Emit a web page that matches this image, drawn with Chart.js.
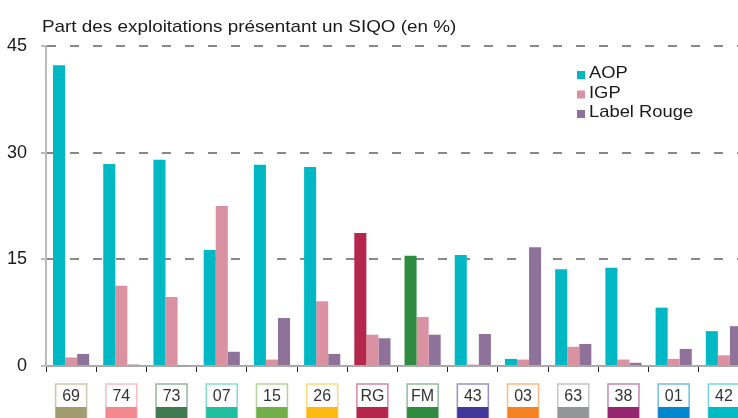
<!DOCTYPE html>
<html lang="fr">
<head>
<meta charset="utf-8">
<script src="https://cdn.jsdelivr.net/npm/chart.js@4.4.0/dist/chart.umd.min.js"></script>
<style>
    html, body { margin: 0; padding: 0; background: #fff; overflow: hidden; }
    #conteneur { position: relative; width: 752px; height: 418px; }
</style>
</head>
<body>
<div id="conteneur"><canvas id="grafique"></canvas></div>
<script>
// Départements / zones (axe x)
const departements = ['69', '74', '73', '07', '15', '26', 'RG', 'FM', '43', '03', '63', '38', '01', '42'];
const couleursDep = ['#A09C6F', '#F3878E', '#3F7B4F', '#20BFA0', '#72AF48', '#FDB913', '#B5264C',
    '#2F8B3F', '#41399A', '#F58220', '#939598', '#93266E', '#0087CE', '#00BAC4'];

// Part des exploitations (en %)
const aop = [42.3, 28.4, 29.0, 16.3, 28.3, 28.0, 18.7, 15.5, 15.6, 1.0, 13.6, 13.8, 8.2, 4.9];
const igp = [1.2, 11.3, 9.7, 22.5, 0.9, 9.1, 4.4, 6.9, 0.2, 0.9, 2.7, 0.9, 1.0, 1.5];
const labelRouge = [1.7, 0.2, 0.1, 2.0, 6.75, 1.7, 3.9, 4.4, 4.5, 16.7, 3.1, 0.45, 2.4, 5.6];

const ticksY = [0, 15, 30, 45];

const titre = 'Part des exploitations présentant un SIQO (en %)';
const police = '"Liberation Sans", Arial, sans-serif';

// Couleur AOP spéciale pour RG et FM
const couleursAop = departements.map((d, i) => (d === 'RG' || d === 'FM') ? couleursDep[i] : '#00B8C4');

// texte légèrement étiré en largeur, comme l'original
function texteEtire(ctx, txt, x, y, etirement) {
    ctx.save();
    ctx.translate(x, y);
    ctx.scale(etirement, 1);
    ctx.fillText(txt, 0, 0);
    ctx.restore();
}

// Titre, légende et étiquettes encadrées sous l'axe
const decor = {
    id: 'decor',
    afterDraw(chart) {
        const ctx = chart.ctx;
        const x = chart.scales.x;
        ctx.save();

        ctx.font = '17px ' + police;
        ctx.fillStyle = '#1a1a1a';
        ctx.textAlign = 'left';
        ctx.textBaseline = 'alphabetic';
        texteEtire(ctx, titre, 42, 32, 1.11);

        // légende
        chart.data.datasets.forEach((ds, i) => {
            const y = 78 + i * 19.5;
            ctx.fillStyle = ds.couleurLegende;
            ctx.fillRect(577, y - 7, 8, 8);
            ctx.fillStyle = '#1a1a1a';
            ctx.font = '17px ' + police;
            texteEtire(ctx, ds.label, 589, y, 1.08);
        });

        // boîtes des départements
        departements.forEach((d, i) => {
            const cx = x.getPixelForValue(i);
            const g = cx - 15.5, h = 384, w = 31;
            ctx.fillStyle = '#fff';
            ctx.fillRect(g, h, w, 23);
            ctx.fillStyle = couleursDep[i];
            ctx.fillRect(g, 407, w, 14);
            ctx.globalAlpha = 0.55;
            ctx.strokeStyle = couleursDep[i];
            ctx.lineWidth = 1.5;
            ctx.strokeRect(g, h, w, 40);
            ctx.globalAlpha = 1;
            ctx.fillStyle = '#333';
            ctx.font = '16px ' + police;
            ctx.textAlign = 'center';
            ctx.textBaseline = 'middle';
            ctx.fillText(d, cx, 397);
            ctx.textAlign = 'left';
            ctx.textBaseline = 'alphabetic';
        });
        ctx.restore();
    }
};

new Chart(document.getElementById('grafique'), {
    type: 'bar',
    data: {
        labels: departements,
        datasets: [
            { label: 'AOP', data: aop, backgroundColor: couleursAop, couleurLegende: '#00B8C4' },
            { label: 'IGP', data: igp, backgroundColor: '#DA91A2', couleurLegende: '#DA91A2' },
            { label: 'Label Rouge', data: labelRouge, backgroundColor: '#8E7299', couleurLegende: '#8E7299' },
        ],
    },
    options: {
        responsive: true,
        maintainAspectRatio: false,
        animation: false,
        datasets: { bar: { barPercentage: 1, categoryPercentage: 0.72 } },
        layout: { padding: { top: 46, right: 3, left: 0, bottom: 0 } },
        plugins: { legend: { display: false }, tooltip: { enabled: false } },
        scales: {
            x: {
                afterFit: s => { s.height = 52; },
                ticks: { display: false },
                grid: { offset: true, drawOnChartArea: false, drawTicks: true, tickLength: 6, color: '#222', lineWidth: 1 },
                border: { display: true, color: '#aaa', width: 2 },
            },
            y: {
                min: 0,
                max: 45,
                afterFit: s => { s.width = 46; },
                afterBuildTicks: s => { s.ticks = ticksY.map(v => ({ value: v })); },
                ticks: { color: '#1a1a1a', font: { size: 18, family: police }, padding: 14 },
                grid: { color: '#888', lineWidth: 2, drawTicks: true, tickLength: 5, tickColor: '#777', tickWidth: 1 },
                border: { display: true, color: '#bbb', width: 2, dash: [9, 14] },
            },
        },
    },
    plugins: [decor],
});
</script>
</body>
</html>
